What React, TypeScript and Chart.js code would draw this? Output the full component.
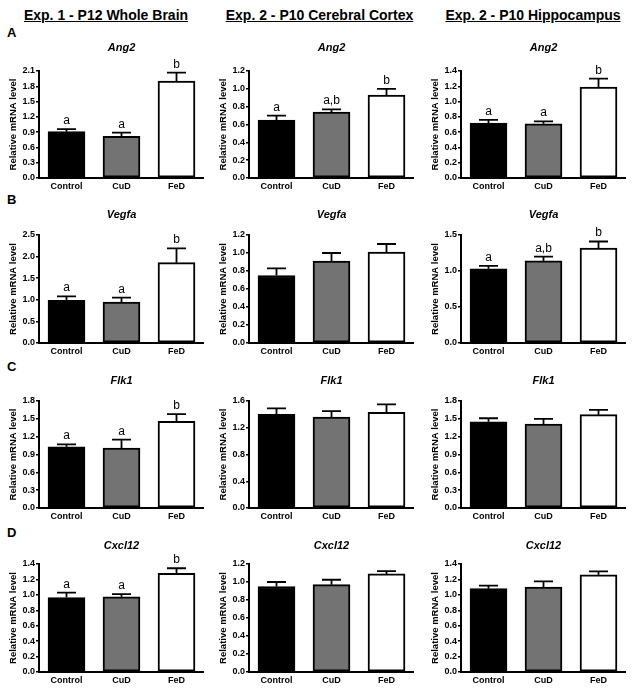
import React, { useEffect, useRef } from "react";
import { Chart, registerables } from "chart.js";

Chart.register(...registerables);

// ---------- data ----------
const groups = ["Control", "CuD", "FeD"];
const columnTitles = [
  "Exp. 1 - P12 Whole Brain",
  "Exp. 2 - P10 Cerebral Cortex",
  "Exp. 2 - P10 Hippocampus",
];
const rowLetters = ["A", "B", "C", "D"];
const genes = ["Ang2", "Vegfa", "Flk1", "Cxcl12"];
const yAxisTitle = "Relative mRNA level";

// per gene: [Whole Brain, Cerebral Cortex, Hippocampus]
const ang2Means = [[0.91, 0.82, 1.9], [0.65, 0.74, 0.93], [0.72, 0.71, 1.19]];
const ang2Sem = [[0.05, 0.07, 0.17], [0.05, 0.03, 0.07], [0.04, 0.03, 0.11]];
const ang2Letters = [["a", "a", "b"], ["a", "a,b", "b"], ["a", "a", "b"]];

const vegfaMeans = [[0.99, 0.95, 1.86], [0.75, 0.91, 1.01], [1.03, 1.14, 1.32]];
const vegfaSem = [[0.09, 0.1, 0.33], [0.08, 0.09, 0.09], [0.04, 0.06, 0.09]];
const vegfaLetters = [["a", "a", "b"], ["", "", ""], ["a", "a,b", "b"]];

const flk1Means = [[1.03, 1.01, 1.46], [1.4, 1.36, 1.43], [1.45, 1.41, 1.57]];
const flk1Sem = [[0.04, 0.14, 0.12], [0.09, 0.09, 0.12], [0.06, 0.09, 0.08]];
const flk1Letters = [["a", "a", "b"], ["", "", ""], ["", "", ""]];

const cxcl12Means = [[0.965, 0.975, 1.28], [0.95, 0.97, 1.09], [1.08, 1.1, 1.26]];
const cxcl12Sem = [[0.065, 0.035, 0.065], [0.05, 0.055, 0.03], [0.04, 0.075, 0.045]];
const cxcl12Letters = [["a", "a", "b"], ["", "", ""], ["", "", ""]];

// y axis max / step per gene per column
const yMaxes = [[2.1, 1.2, 1.4], [2.5, 1.2, 1.5], [1.8, 1.6, 1.8], [1.4, 1.2, 1.4]];
const ySteps = [[0.3, 0.2, 0.2], [0.5, 0.2, 0.5], [0.3, 0.4, 0.3], [0.2, 0.2, 0.2]];

const allMeans = [ang2Means, vegfaMeans, flk1Means, cxcl12Means];
const allSem = [ang2Sem, vegfaSem, flk1Sem, cxcl12Sem];
const allLetters = [ang2Letters, vegfaLetters, flk1Letters, cxcl12Letters];

// ---------- layout / style ----------
const FONT = '"Liberation Sans", Arial, Helvetica, sans-serif';
const barColors = ["#000000", "#737373", "#ffffff"];
const axisX = [39, 249, 461];
const plotTops = [71, 235, 401, 564];
const plotBottoms = [178, 343, 508, 672];
const titleBaselines = [51, 217.5, 384, 549];
const letterTops = [25.5, 192.5, 359.5, 525.5];
const headerCenters = [106, 319.5, 533];
const Y_AXIS_W = 39;
const PLOT_W = 165;
const PAD_TOP = 32;
const X_AXIS_H = 20;

type PanelProps = {
  gene: string;
  means: number[];
  sem: number[];
  letters: string[];
  yMax: number;
  yStep: number;
  left: number;
  top: number;
  plotH: number;
  titleOffset: number;
};

function Panel(p: PanelProps) {
  const ref = useRef<HTMLCanvasElement>(null);
  const width = Y_AXIS_W + PLOT_W;
  const height = PAD_TOP + p.plotH + X_AXIS_H;

  useEffect(() => {
    const canvas = ref.current;
    if (!canvas) return;
    const overlay = {
      id: "overlay",
      afterDatasetsDraw(chart: any) {
        const { ctx, chartArea, scales } = chart;
        const meta = chart.getDatasetMeta(0);
        ctx.save();
        ctx.strokeStyle = "#000";
        ctx.fillStyle = "#000";
        ctx.lineWidth = 1.8;
        meta.data.forEach((bar: any, i: number) => {
          const capY = scales.y.getPixelForValue(p.means[i] + p.sem[i]);
          ctx.beginPath();
          ctx.moveTo(bar.x, bar.y);
          ctx.lineTo(bar.x, capY);
          ctx.moveTo(bar.x - 9.5, capY);
          ctx.lineTo(bar.x + 9.5, capY);
          ctx.stroke();
          if (p.letters[i]) {
            ctx.font = `12px ${FONT}`;
            ctx.textAlign = "center";
            ctx.textBaseline = "alphabetic";
            ctx.fillText(p.letters[i], bar.x, capY - 5);
          }
        });
        ctx.font = `italic bold 11px ${FONT}`;
        ctx.textAlign = "center";
        ctx.textBaseline = "alphabetic";
        ctx.fillText(p.gene, (chartArea.left + chartArea.right) / 2, chartArea.top - p.titleOffset);
        ctx.restore();
      },
    };
    const chart = new Chart(canvas, {
      type: "bar",
      data: {
        labels: groups,
        datasets: [
          {
            data: p.means,
            backgroundColor: barColors,
            borderColor: "#000",
            borderWidth: 2,
            borderSkipped: false,
            barThickness: 37,
          },
        ],
      },
      options: {
        responsive: false,
        animation: false,
        devicePixelRatio: 1,
        layout: { padding: { top: PAD_TOP, left: 0, right: 0, bottom: 0 } },
        plugins: {
          legend: { display: false },
          tooltip: { enabled: false },
          title: { display: false },
        },
        scales: {
          x: {
            type: "category",
            offset: true,
            grid: { display: false, drawTicks: false },
            border: { display: true, color: "#000", width: 2 },
            ticks: {
              color: "#000",
              font: { family: FONT, size: 9, weight: "bold" },
              padding: 3,
              maxRotation: 0,
              autoSkip: false,
            },
            afterFit: (s: any) => {
              s.height = X_AXIS_H;
            },
          },
          y: {
            min: 0,
            max: p.yMax,
            grid: {
              display: true,
              drawOnChartArea: false,
              drawTicks: true,
              tickLength: 3,
              color: "#000",
              lineWidth: 1.5,
            },
            border: { display: true, color: "#000", width: 2 },
            ticks: {
              stepSize: p.yStep,
              color: "#000",
              font: { family: FONT, size: 9, weight: "bold" },
              padding: 1,
              autoSkip: false,
              callback: (v: any) => Number(v).toFixed(1),
            },
            title: {
              display: true,
              text: yAxisTitle,
              color: "#000",
              font: { family: FONT, size: 9.5, weight: "bold" },
              padding: { top: 8, bottom: 0 },
            },
            afterFit: (s: any) => {
              s.width = Y_AXIS_W;
            },
          },
        },
      } as any,
      plugins: [overlay],
    });
    return () => chart.destroy();
  }, []);

  return (
    <canvas
      ref={ref}
      width={width}
      height={height}
      style={{ position: "absolute", left: p.left, top: p.top, width, height }}
    />
  );
}

export default function App() {
  const panels: React.ReactNode[] = [];
  genes.forEach((gene, r) => {
    columnTitles.forEach((_, c) => {
      const top = plotTops[r] - PAD_TOP;
      panels.push(
        <Panel
          key={`${r}-${c}`}
          gene={gene}
          means={allMeans[r][c]}
          sem={allSem[r][c]}
          letters={allLetters[r][c]}
          yMax={yMaxes[r][c]}
          yStep={ySteps[r][c]}
          left={axisX[c] - Y_AXIS_W}
          top={top}
          plotH={plotBottoms[r] - plotTops[r]}
          titleOffset={plotTops[r] - titleBaselines[r]}
        />
      );
    });
  });

  return (
    <div
      style={{
        position: "absolute",
        left: 0,
        top: 0,
        width: 632,
        height: 692,
        background: "#fff",
        overflow: "hidden",
        fontFamily: FONT,
      }}
    >
      {columnTitles.map((t, c) => (
        <div
          key={t}
          style={{
            position: "absolute",
            left: headerCenters[c] - 150,
            width: 300,
            top: 8,
            textAlign: "center",
            fontSize: 14,
            lineHeight: "14px",
            fontWeight: "bold",
            textDecoration: "underline",
            color: "#000",
            whiteSpace: "nowrap",
          }}
        >
          {t}
        </div>
      ))}
      {rowLetters.map((l, r) => (
        <div
          key={l}
          style={{
            position: "absolute",
            left: 7,
            top: letterTops[r],
            fontSize: 13,
            lineHeight: "13px",
            fontWeight: "bold",
            color: "#000",
          }}
        >
          {l}
        </div>
      ))}
      {panels}
    </div>
  );
}
